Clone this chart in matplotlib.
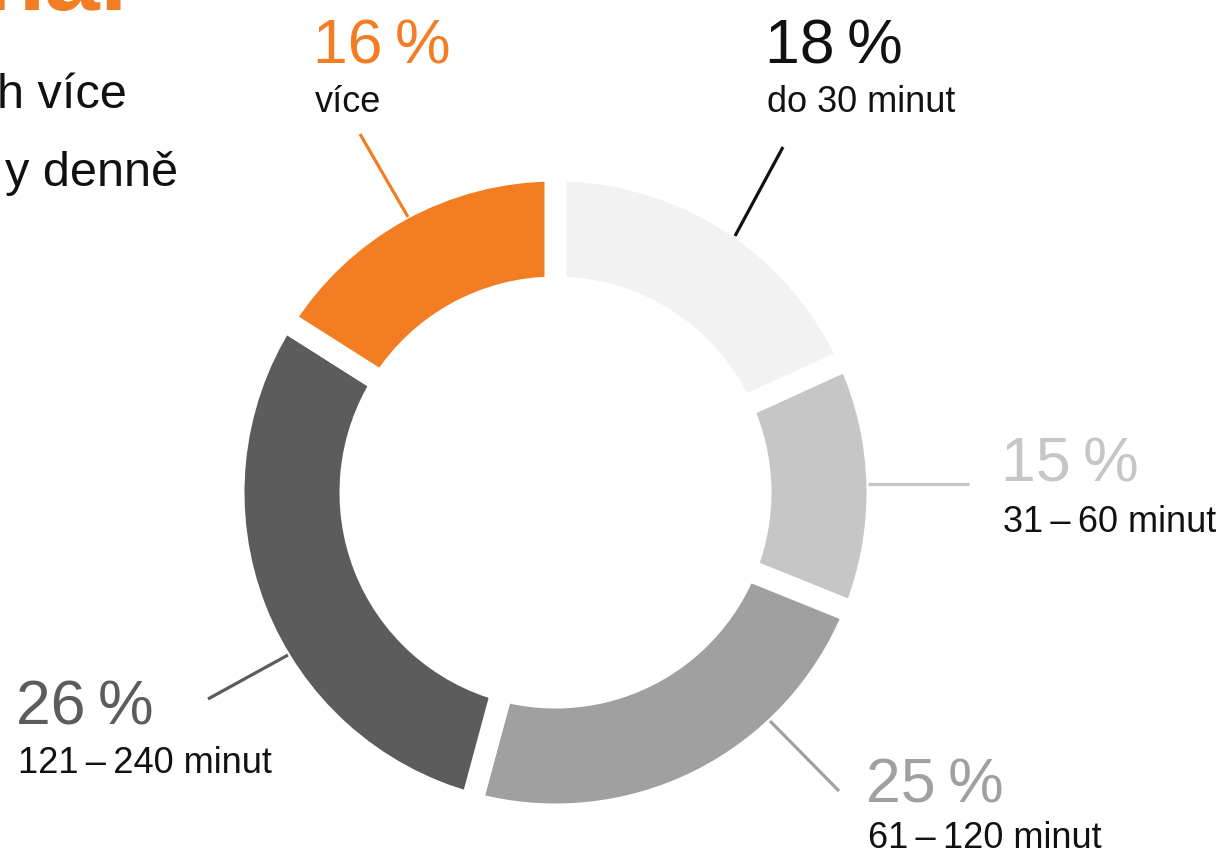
import matplotlib
matplotlib.use("Agg")
import matplotlib.pyplot as plt

# ---- data ----
categories = ["do 30 minut", "31\u2009–\u200960 minut", "61\u2009–\u2009120 minut",
              "121\u2009–\u2009240 minut", "více"]
label_pct = [18, 15, 25, 26, 16]            # percentages printed on the chart
slice_share = [18.2, 12.9, 23.1, 29.8, 16.0]  # arc shares as drawn in the picture
colors = ["#f2f2f2", "#c6c6c6", "#a0a0a0", "#5c5c5c", "#f37d22"]
pct_colors = ["#111111", "#c6c6c6", "#a0a0a0", "#5c5c5c", "#f37d22"]
line_colors = ["#111111", "#c6c6c6", "#a0a0a0", "#5c5c5c", "#f37d22"]

W, H = 1225, 854
FONT = ["Liberation Sans", "DejaVu Sans"]

fig = plt.figure(figsize=(W / 100, H / 100), dpi=100)
ax = fig.add_axes([0, 0, 1, 1])


def py(y):
    return H - y


# donut
cx, cy = 555.5, 493.5
gap_px = 22
R_vis, r_vis = 311, 216
R = R_vis + gap_px / 2
r = r_vis - gap_px / 2
ax.pie(slice_share, colors=colors, startangle=90, counterclock=False,
       radius=R, center=(cx, py(cy)), frame=True,
       wedgeprops=dict(width=R - r, edgecolor="white", linewidth=gap_px * 0.72))

# leader lines (layout positions in pixels)
leaders = [((735, 237), (783, 148)),
           ((868, 485), (969, 485)),
           ((770, 722), (839, 792)),
           ((288, 656), (208, 700)),
           ((408, 218), (360, 135))]
for (p0, p1), c in zip(leaders, line_colors):
    ax.plot([p0[0], p1[0]], [py(p0[1]), py(p1[1])], color=c, lw=2.3,
            solid_capstyle="butt", zorder=3)

# labels: (x, baseline of pct, baseline of category)
label_pos = [(765, 63, 112), (1001, 482, 532), (866, 803, 848),
             (16, 725, 773), (313, 63, 112)]
for (x, yb1, yb2), p, cat, c in zip(label_pos, label_pct, categories, pct_colors):
    ax.text(x, py(yb1), f"{p}\u2009%", fontsize=45, color=c, family=FONT,
            ha="left", va="baseline")
    ax.text(x + 2, py(yb2), cat, fontsize=26, color="#111111", family=FONT,
            ha="left", va="baseline")

# cut-off title fragments on the left
ax.text(128, py(10), "nal", fontsize=72, fontweight="bold", color="#f37d22",
        family=FONT, ha="right", va="baseline")
ax.text(127, py(108), "h více", fontsize=35, color="#111111", family=FONT,
        ha="right", va="baseline")
ax.text(178, py(186), "y denně", fontsize=35, color="#111111", family=FONT,
        ha="right", va="baseline")

ax.set_xlim(0, W)
ax.set_ylim(0, H)
ax.set_aspect("equal")
ax.axis("off")

fig.savefig("out.png", dpi=100)
